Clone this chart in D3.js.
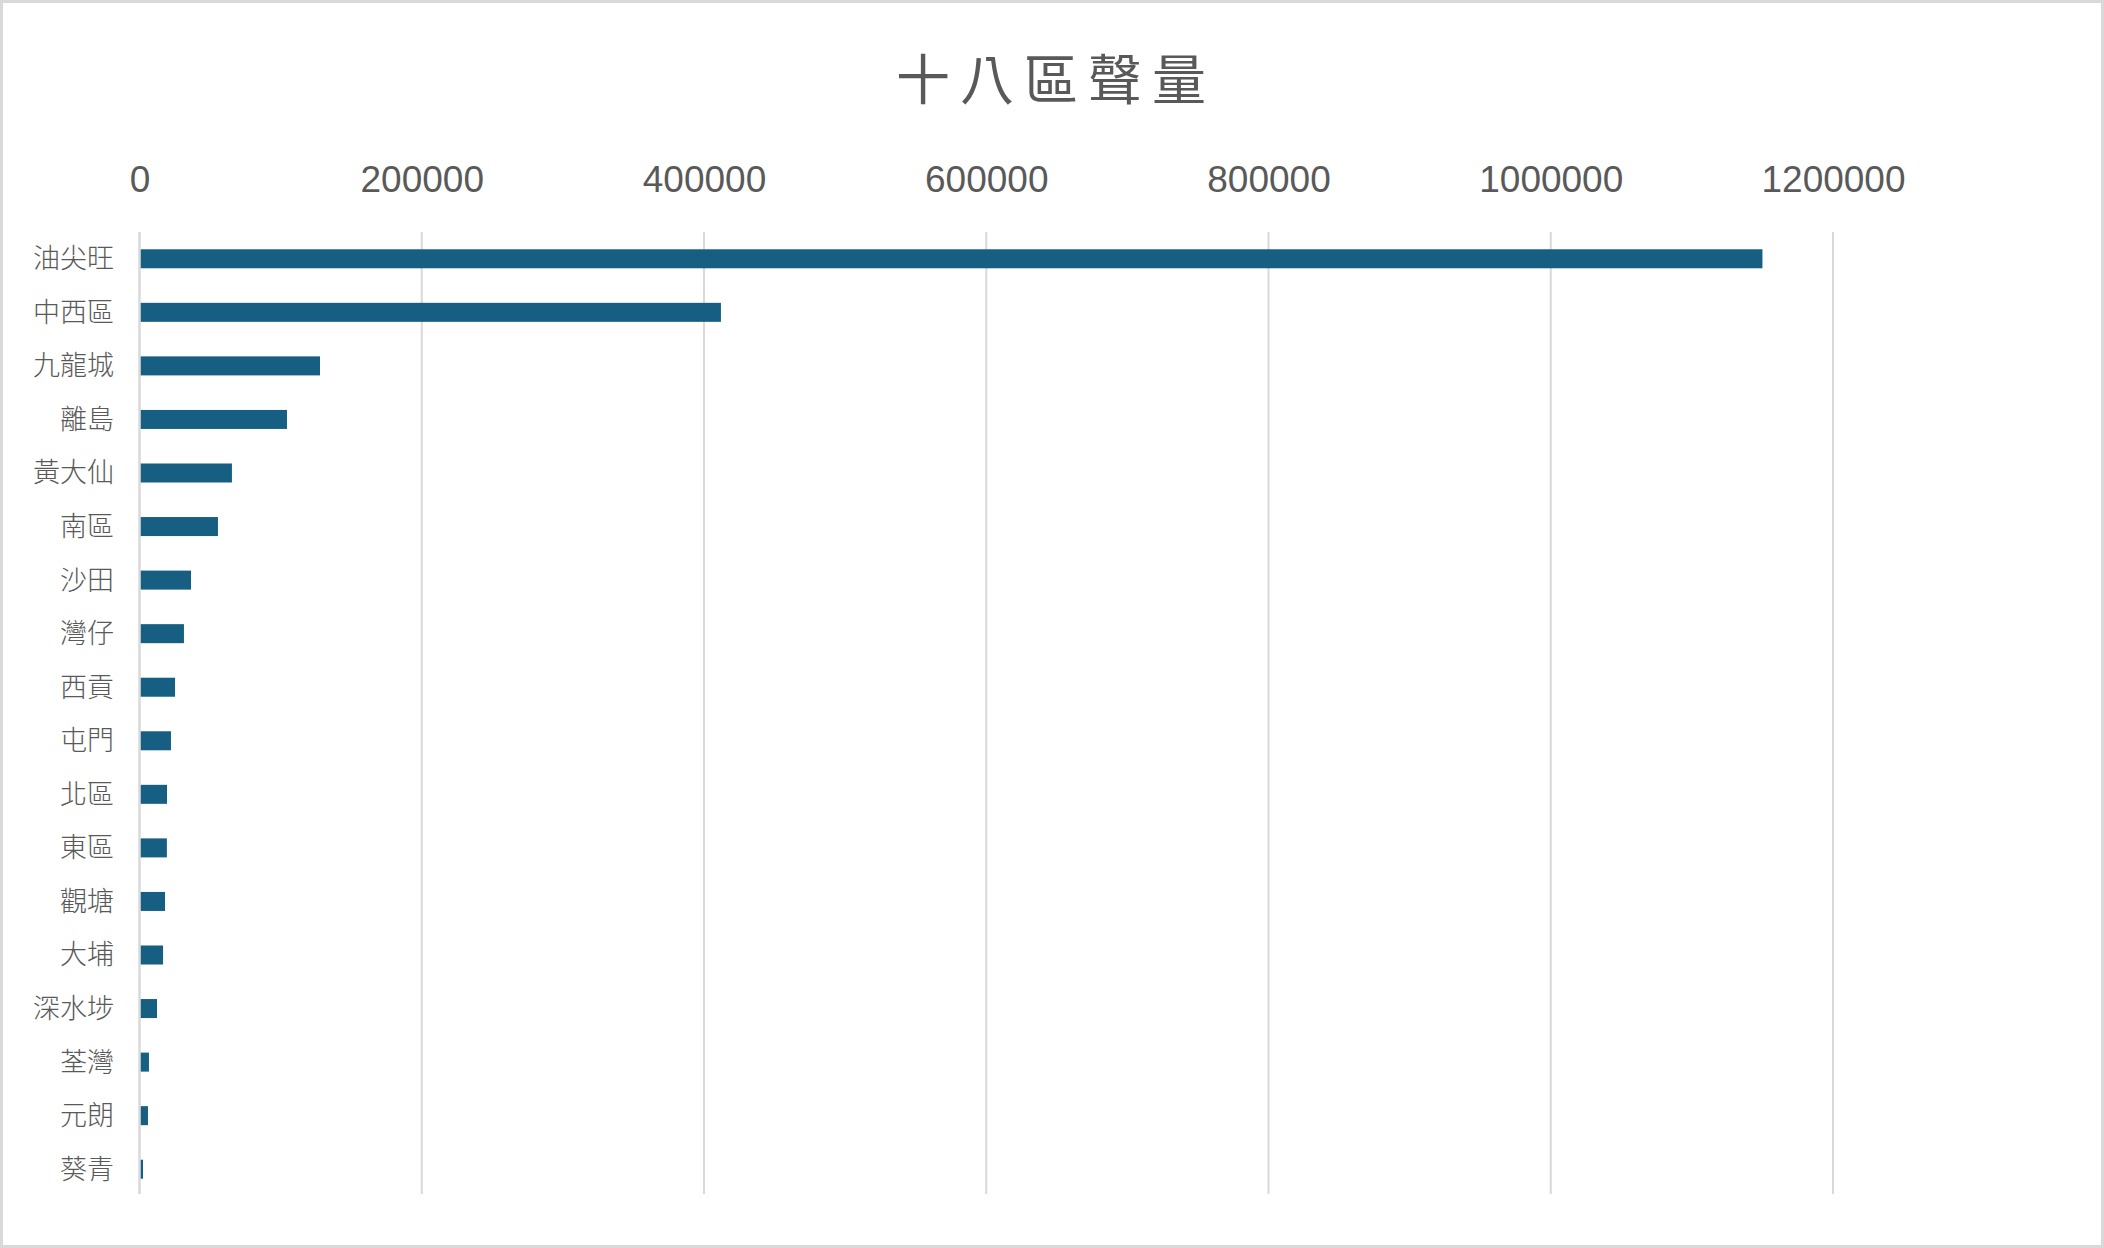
<!DOCTYPE html>
<html>
<head>
<meta charset="utf-8">
<script src="https://cdn.jsdelivr.net/npm/d3@7"></script>
<style>
  html, body { margin: 0; padding: 0; background: #fff; }
  svg { display: block; }
</style>
</head>
<body>
<div id="chart"></div>
<script>
// district names, top to bottom
const districts = ["油尖旺", "中西區", "九龍城", "離島", "黃大仙", "南區", "沙田", "灣仔", "西貢",
                   "屯門", "北區", "東區", "觀塘", "大埔", "深水埗", "荃灣", "元朗", "葵青"];
// volume per district
const volumes = [1150000, 412000, 127900, 104500, 65500, 55600, 36500, 31500, 25200,
                 22300, 19500, 19400, 18100, 16700, 12400, 6700, 6000, 2500];
const tickValues = [0, 200000, 400000, 600000, 800000, 1000000, 1200000];
const chartTitle = "十八區聲量";

const width = 2104, height = 1248;
const margin = { top: 232, right: 271, bottom: 52, left: 139.5 };

const data = districts.map((d, i) => ({ name: d, value: volumes[i] }));

const svg = d3.select("#chart").append("svg")
    .attr("width", width)
    .attr("height", height);

// outer chart border
svg.append("rect")
    .attr("x", 1.5).attr("y", 1.5)
    .attr("width", width - 3).attr("height", height - 3)
    .attr("fill", "#fff")
    .attr("stroke", "#d9d9d9")
    .attr("stroke-width", 3);

const x = d3.scaleLinear()
    .domain([0, 1200000])
    .range([margin.left, width - margin.right]);

const y = d3.scaleBand()
    .domain(districts)
    .range([margin.top, height - margin.bottom])
    .paddingInner(0.645)
    .paddingOuter(0.3225);

// title
svg.append("text")
    .attr("x", width / 2 + 4)
    .attr("y", 100)
    .attr("text-anchor", "middle")
    .attr("fill", "#595959")
    .style("font-family", "'Noto Sans CJK TC', sans-serif")
    .style("font-size", "54px")
    .style("font-weight", 400)
    .style("letter-spacing", "10px")
    .text(chartTitle);

// vertical gridlines
svg.append("g")
    .selectAll("line")
    .data(tickValues)
    .enter().append("line")
    .attr("x1", d => x(d))
    .attr("x2", d => x(d))
    .attr("y1", margin.top)
    .attr("y2", height - margin.bottom - 2)
    .attr("stroke", "#d9d9d9")
    .attr("stroke-width", d => d === 0 ? 2.5 : 2);

// top value axis
const xAxis = svg.append("g")
    .attr("transform", `translate(0, ${margin.top - 40})`)
    .call(d3.axisTop(x).tickValues(tickValues).tickFormat(d3.format("d")).tickSize(0).tickPadding(0));
xAxis.select(".domain").remove();
xAxis.selectAll("text")
    .attr("fill", "#595959")
    .attr("dy", 0)
    .style("font-family", "'Liberation Sans', Arial, sans-serif")
    .style("font-size", "37px");

// bars
svg.append("g")
    .selectAll("rect")
    .data(data)
    .enter().append("rect")
    .attr("x", x(0) + 1.25)
    .attr("y", d => y(d.name))
    .attr("width", d => Math.max(0, x(d.value) - x(0) - 1.25))
    .attr("height", y.bandwidth())
    .attr("fill", "#175f82");

// category labels
svg.append("g")
    .selectAll("text")
    .data(data)
    .enter().append("text")
    .attr("x", 114)
    .attr("y", d => y(d.name) + y.bandwidth() / 2)
    .attr("dy", "0.35em")
    .attr("text-anchor", "end")
    .attr("fill", "#595959")
    .style("font-family", "'Noto Sans CJK TC', sans-serif")
    .style("font-size", "27px")
    .style("font-weight", 300)
    .text(d => d.name);
</script>
</body>
</html>
